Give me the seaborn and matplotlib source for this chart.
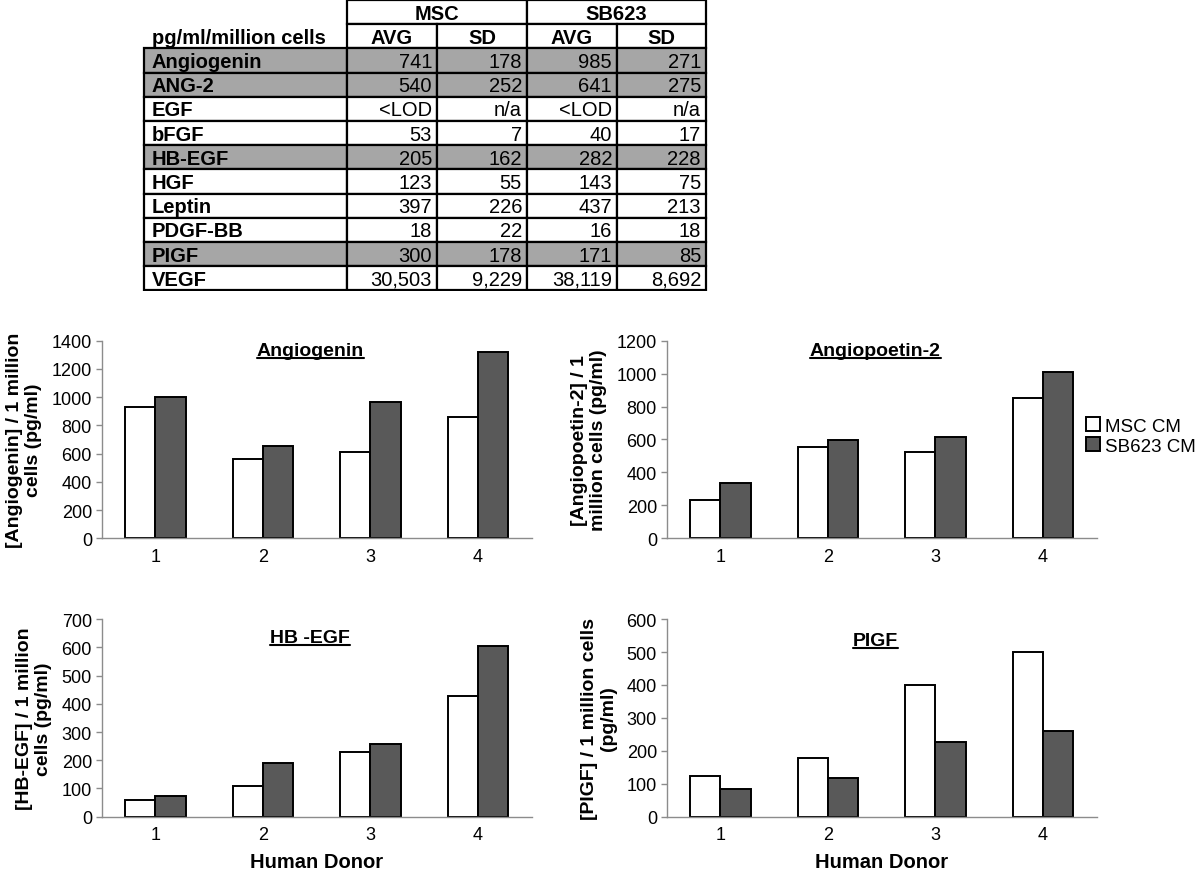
import matplotlib
matplotlib.use("Agg")
import matplotlib.pyplot as plt
from matplotlib.patches import Rectangle
from matplotlib.lines import Line2D
import seaborn as sns
import pandas as pd

# ---------------- data ----------------
table_rows = ["Angiogenin", "ANG-2", "EGF", "bFGF", "HB-EGF", "HGF", "Leptin", "PDGF-BB", "PIGF", "VEGF"]
msc_avg = ["741", "540", "<LOD", "53", "205", "123", "397", "18", "300", "30,503"]
msc_sd = ["178", "252", "n/a", "7", "162", "55", "226", "22", "178", "9,229"]
sb_avg = ["985", "641", "<LOD", "40", "282", "143", "437", "16", "171", "38,119"]
sb_sd = ["271", "275", "n/a", "17", "228", "75", "213", "18", "85", "8,692"]
shaded_rows = ["Angiogenin", "ANG-2", "HB-EGF", "PIGF"]

donors = ["1", "2", "3", "4"]
groups = ["MSC CM", "SB623 CM"]

angiogenin_msc = [930, 564, 614, 857]
angiogenin_sb = [1003, 654, 966, 1322]
ang2_msc = [235, 553, 524, 852]
ang2_sb = [338, 599, 615, 1008]
hbegf_msc = [58, 110, 228, 426]
hbegf_sb = [75, 191, 256, 606]
pigf_msc = [125, 177, 399, 501]
pigf_sb = [84, 116, 228, 259]

panels = [
    ("Angiogenin", angiogenin_msc, angiogenin_sb, 1400, 200,
     "[Angiogenin] / 1 million\ncells (pg/ml)"),
    ("Angiopoetin-2", ang2_msc, ang2_sb, 1200, 200,
     "[Angiopoetin-2] / 1\nmillion cells (pg/ml)"),
    ("HB -EGF", hbegf_msc, hbegf_sb, 700, 100,
     "[HB-EGF] / 1 million\ncells (pg/ml)"),
    ("PIGF", pigf_msc, pigf_sb, 600, 100,
     "[PIGF] / 1 million cells\n(pg/ml)"),
]

# ---------------- style ----------------
sns.set_style("white")
plt.rcParams["font.family"] = ["Liberation Sans", "DejaVu Sans"]
plt.rcParams["text.color"] = "black"
plt.rcParams["axes.labelcolor"] = "black"
plt.rcParams["xtick.labelcolor"] = "black"
plt.rcParams["ytick.labelcolor"] = "black"

W, H = 1200, 878
fig = plt.figure(figsize=(W / 100, H / 100), dpi=100)

# ---------------- table ----------------
tax = fig.add_axes([0, 1 - 292 / H, 1, 292 / H])
tax.set_xlim(0, W)
tax.set_ylim(292, 0)
tax.axis("off")

col_x = [144, 347, 437, 527, 617, 706]
rh = 24.2
y0 = 1.0
gray = "#a6a6a6"
tfs = 14.5
lw_t = 1.6


def cell(x0, x1, ya, yb, fc="white"):
    tax.add_patch(Rectangle((x0, ya), x1 - x0, yb - ya, facecolor=fc,
                            edgecolor="black", linewidth=lw_t, zorder=1))


# header row 1
for (a, b, name) in [(1, 3, "MSC"), (3, 5, "SB623")]:
    cell(col_x[a], col_x[b], y0, y0 + rh)
    tax.text((col_x[a] + col_x[b]) / 2, y0 + rh / 2 + 1, name, ha="center", va="center",
             fontsize=tfs, fontweight="bold", zorder=3)
# header row 2
yh = y0 + rh
tax.text(col_x[0] + 8, yh + rh / 2 + 1, "pg/ml/million cells", ha="left", va="center",
         fontsize=tfs, fontweight="bold", zorder=3)
for j, name in enumerate(["AVG", "SD", "AVG", "SD"]):
    cell(col_x[j + 1], col_x[j + 2], yh, yh + rh)
    tax.text((col_x[j + 1] + col_x[j + 2]) / 2, yh + rh / 2 + 1, name, ha="center",
             va="center", fontsize=tfs, fontweight="bold", zorder=3)
# data rows
for i, name in enumerate(table_rows):
    ya = y0 + (2 + i) * rh
    fc = gray if name in shaded_rows else "white"
    vals = [msc_avg[i], msc_sd[i], sb_avg[i], sb_sd[i]]
    cell(col_x[0], col_x[1], ya, ya + rh, fc)
    tax.text(col_x[0] + 8, ya + rh / 2 + 1, name, ha="left", va="center",
             fontsize=tfs, fontweight="bold", zorder=3)
    for j, v in enumerate(vals):
        cell(col_x[j + 1], col_x[j + 2], ya, ya + rh, fc)
        tax.text(col_x[j + 2] - 5, ya + rh / 2 + 1, v, ha="right", va="center",
                 fontsize=tfs, zorder=3)

# ---------------- bar panels ----------------
ax_w = 430 / W
ax_h = 197.6 / H
positions = [
    (101.7 / W, 1 - 539.3 / H),
    (666.7 / W, 1 - 539.3 / H),
    (101.7 / W, 1 - 817.7 / H),
    (666.7 / W, 1 - 817.7 / H),
]
title_y = [0.948, 0.948, 0.909, 0.894]
palette = {"MSC CM": "white", "SB623 CM": "#595959"}
axis_gray = "#8c8c8c"

axes = []
for k, (title, msc, sb, ymax, step, ylab) in enumerate(panels):
    ax = fig.add_axes([positions[k][0], positions[k][1], ax_w, ax_h])
    df = pd.DataFrame({
        "donor": donors * 2,
        "group": [groups[0]] * 4 + [groups[1]] * 4,
        "value": list(msc) + list(sb),
    })
    sns.barplot(data=df, x="donor", y="value", hue="group", order=donors,
                hue_order=groups, palette=palette, edgecolor="black",
                linewidth=1.4, width=0.56, legend=False, ax=ax, saturation=1)
    ax.set_xlim(-0.5, 3.5)
    ax.set_ylim(0, ymax)
    ax.set_yticks(list(range(0, ymax + 1, step)))
    ax.set_xticks(range(4))
    ax.set_xticks([-0.5, 0.5, 1.5, 2.5, 3.5], minor=True)
    ax.tick_params(axis="x", which="major", length=0, pad=7, labelsize=13,
                   labelcolor="black")
    ax.tick_params(axis="x", which="minor", length=4, width=1, color=axis_gray,
                   direction="out")
    ax.tick_params(axis="y", which="major", length=4, width=1, color=axis_gray,
                   direction="out", pad=3, labelsize=13, left=True, labelcolor="black")
    for s in ["top", "right"]:
        ax.spines[s].set_visible(False)
    for s in ["left", "bottom"]:
        ax.spines[s].set_color(axis_gray)
        ax.spines[s].set_linewidth(1.0)
    ax.set_ylabel(ylab, fontsize=14, fontweight="bold", labelpad=7, linespacing=1.12,
                  color="black")
    if k >= 2:
        ax.set_xlabel("Human Donor", fontsize=14.5, fontweight="bold", labelpad=6,
                      color="black")
    else:
        ax.set_xlabel("")
    ax.text(0.485, title_y[k], title, transform=ax.transAxes, ha="center",
            va="center", fontsize=14, fontweight="bold", gid="title", color="black")
    axes.append(ax)

# legend to the right of the Angiopoetin-2 panel
ax_leg = axes[1]
leg = fig.legend(ax_leg.containers, groups, loc="center left",
                 bbox_to_anchor=(1086 / W, 1 - 437 / H), frameon=False, fontsize=13.5,
                 handlelength=0.75, handleheight=0.75, handletextpad=0.25,
                 labelspacing=0.12, borderpad=0, borderaxespad=0)
for t in leg.get_texts():
    t.set_color("black")

# underline titles
fig.canvas.draw()
renderer = fig.canvas.get_renderer()
for ax in axes:
    for t in ax.texts:
        if t.get_gid() == "title":
            bb = t.get_window_extent(renderer)
            yline = bb.y0 + 1
            fig.add_artist(Line2D([bb.x0 / W, bb.x1 / W], [yline / H, yline / H],
                                  transform=fig.transFigure, color="black",
                                  linewidth=1.5))

fig.savefig("out.png", dpi=100)
